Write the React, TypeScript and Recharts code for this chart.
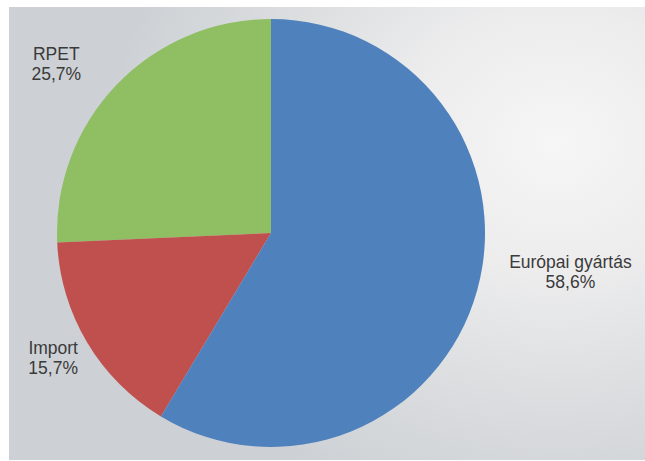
import React from "react";
import { PieChart, Pie, Cell } from "recharts";

const categories = ["RPET", "Import", "Európai gyártás"];
const shares = [25.7, 15.7, 58.6];
const colors = ["#8fbe63", "#c0504d", "#4f81bd"];

// label nudges (px) relative to a point outside each slice
const labelNudge = [
  { dx: -24, dy: 13 },
  { dx: 9, dy: -11 },
  { dx: 45, dy: -32 },
];

const data = categories.map((name, i) => ({ name, value: shares[i] }));

const RADIAN = Math.PI / 180;

const renderLabel = (props: any) => {
  const { cx, cy, midAngle, outerRadius, index, name, value } = props;
  const r = outerRadius + 50;
  const x = cx + r * Math.cos(-midAngle * RADIAN) + labelNudge[index].dx;
  const y = cy + r * Math.sin(-midAngle * RADIAN) + labelNudge[index].dy;
  const pct = Number(value).toFixed(1).replace(".", ",") + "%";
  return (
    <text
      x={x}
      y={y}
      textAnchor="middle"
      fill="#3a3a3a"
      fontFamily="'Liberation Sans', Arial, sans-serif"
      fontSize={17.5}
    >
      <tspan x={x} y={y - 3}>
        {name}
      </tspan>
      <tspan x={x} y={y + 17}>
        {pct}
      </tspan>
    </text>
  );
};

export default function App() {
  return (
    <div
      style={{
        position: "absolute",
        left: 0,
        top: 0,
        width: 645,
        height: 461,
        background: "#ffffff",
        overflow: "hidden",
      }}
    >
      <div
        style={{
          position: "absolute",
          left: 9,
          top: 7,
          width: 636,
          height: 453,
          background:
            "radial-gradient(ellipse 70% 85% at 86% 30%, #f6f6f6 0%, #ececed 35%, #dcdee0 65%, #cdd1d5 100%)",
        }}
      />
      <div style={{ position: "absolute", left: 0, top: 0 }}>
        <PieChart
          width={645}
          height={461}
          margin={{ top: 0, right: 0, bottom: 0, left: 0 }}
        >
          <Pie
            data={data}
            dataKey="value"
            nameKey="name"
            cx={271}
            cy={233}
            outerRadius={214}
            startAngle={90}
            endAngle={450}
            stroke="none"
            label={renderLabel}
            labelLine={false}
            isAnimationActive={false}
          >
            {data.map((d, i) => (
              <Cell key={d.name} fill={colors[i]} />
            ))}
          </Pie>
        </PieChart>
      </div>
    </div>
  );
}
